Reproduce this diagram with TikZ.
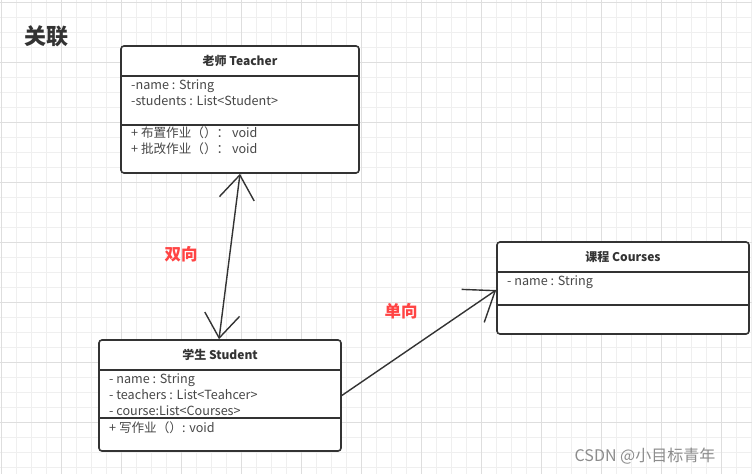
\documentclass[tikz,border=0pt]{standalone}
\usepackage{fontspec}
\setmainfont{Noto Sans CJK SC}
\usetikzlibrary{arrows.meta}
\definecolor{ink}{HTML}{333333}
\definecolor{gridminor}{HTML}{EFEFEF}
\definecolor{gridmajor}{HTML}{DEDEDE}
\definecolor{lbl}{HTML}{FF4444}
\tikzset{
  classbox/.style={draw=ink, line width=1.6pt, rounded corners=3pt, fill=white, inner sep=0pt},
  sep/.style={draw=ink, line width=1.6pt},
  hdr/.style={font=\fontsize{12}{14}\selectfont\bfseries, text=ink, anchor=base, inner sep=0pt},
  attr/.style={font=\fontsize{12.6}{14}\selectfont, text=black!72, anchor=base west, inner sep=0pt},
  conn/.style={draw=ink, line width=1.4pt},
  redlbl/.style={font=\fontsize{16.5}{18}\selectfont\bfseries, text=lbl, inner sep=0pt},
}
\begin{document}
\begin{tikzpicture}[x=1pt,y=-1pt]
\useasboundingbox (0,0) rectangle (752,474);
\fill[white] (0,0) rectangle (752,474);
% grid
\foreach \i in {0,...,50} {
  \pgfmathsetmacro\gx{1.7+15*\i}
  \draw[gridminor, line width=0.8pt] (\gx,0) -- (\gx,474);
}
\foreach \j in {0,...,31} {
  \pgfmathsetmacro\gy{2.3+15*\j}
  \draw[gridminor, line width=0.8pt] (0,\gy) -- (752,\gy);
}
\foreach \i in {0,...,12} {
  \pgfmathsetmacro\gx{1.7+60*\i}
  \draw[gridmajor, line width=0.8pt] (\gx,0) -- (\gx,474);
}
\foreach \j in {0,...,7} {
  \pgfmathsetmacro\gy{2.3+60*\j}
  \draw[gridmajor, line width=0.8pt] (0,\gy) -- (752,\gy);
}

% title
\node[font=\fontsize{22}{24}\selectfont\bfseries, text=ink, inner sep=0pt] (title) at (46,36) {关联};

% Teacher
\node[classbox, minimum width=238pt, minimum height=127pt] (teacher) at (240,109.5) {};
\draw[sep] (121,76) -- (359,76);
\draw[sep] (121,125) -- (359,125);
\node[hdr] (th) at (240,65.5) {老师 Teacher};
\node[attr] (ta1) at (131,89) {-name : String};
\node[attr] (ta2) at (131,105) {-students : List<Student>};
\node[attr] (tm1) at (131,137) {+ 布置作业（）： void};
\node[attr] (tm2) at (131,153) {+ 批改作业（）：  void};

% Student
\node[classbox, minimum width=242pt, minimum height=111pt] (student) at (220,395.5) {};
\draw[sep] (99,370) -- (341,370);
\draw[sep] (99,418) -- (341,418);
\node[hdr] (sh) at (220,359.5) {学生 Student};
\node[attr] (sa1) at (109,383) {- name : String};
\node[attr] (sa2) at (109,399) {- teachers :  List<Teahcer>};
\node[attr] (sa3) at (109,415) {- course:List<Courses>};
\node[attr] (sm1) at (109,432) {+ 写作业（）: void};

% Courses
\node[classbox, minimum width=252pt, minimum height=92pt] (courses) at (623,288) {};
\draw[sep] (497,272) -- (749,272);
\draw[sep] (497,305) -- (749,305);
\node[hdr] (ch) at (623,261.5) {课程 Courses};
\node[attr] (ca1) at (507,285) {- name : String};

% connectors
\draw[conn, {Straight Barb[length=24pt, width=35pt, line width=1.4pt]}-{Straight Barb[length=24pt, width=35pt, line width=1.4pt]}]
  (teacher.south) -- ([xshift=-1pt]student.north);
\draw[conn, -{Straight Barb[length=27pt, width=40pt, line width=1.4pt]}]
  (student.east) -- ([yshift=-2pt]courses.west);

% labels
\node[redlbl] (bi) at (181,254) {双向};
\node[redlbl] (uni) at (401,311) {单向};

% watermark
\node[font=\fontsize{16}{18}\selectfont, text=black!45, inner sep=0pt] (wm) at (645,456) {CSDN @小目标青年};
\end{tikzpicture}
\end{document}
